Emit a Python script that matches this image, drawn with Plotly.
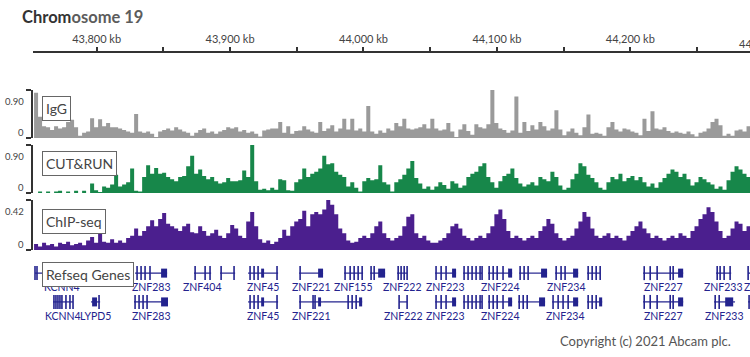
import plotly.graph_objects as go

# ---------------- data ----------------
TITLE_DARK = "Chrom"
TITLE_LIGHT = "osome 19"
COPYRIGHT = "Copyright (c) 2021 Abcam plc."

X_RANGE_KB = [43752.3, 44289.7]
TICK_KB = [43800, 43850, 43900, 43950, 44000, 44050, 44100, 44150, 44200, 44250]
TICK_TEXT = ["43,800 kb", "", "43,900 kb", "", "44,000 kb", "", "44,100 kb", "", "44,200 kb", ""]
EDGE_TICK_KB = 44300
EDGE_TICK_TEXT = "44,300 kb"

BIN_START_KB = 43753.1
BIN_KB = 3.0

IGG = [0.85, 0.4, 0.22, 0.2, 0.15, 0.22, 0.18, 0.2, 0.3, 0.34,
       0.2, 0.04, 0.1, 0.12, 0.37, 0.2, 0.35, 0.22, 0.28, 0.2,
       0.2, 0.18, 0.15, 0.12, 0.1, 0.45, 0.12, 0.1, 0.12, 0.08,
       0.02, 0.12, 0.15, 0.18, 0.14, 0.2, 0.16, 0.12, 0.1, 0.04,
       0.1, 0.15, 0.18, 0.1, 0.12, 0.08, 0.12, 0.15, 0.2, 0.18,
       0.2, 0.12, 0.15, 0.1, 0.12, 0.08, 0.03, 0.14, 0.16, 0.18,
       0.18, 0.3, 0.1, 0.22, 0.08, 0.13, 0.14, 0.22, 0.16, 0.12,
       0.1, 0.3, 0.13, 0.18, 0.24, 0.12, 0.18, 0.36, 0.16, 0.36,
       0.14, 0.18, 0.12, 0.6, 0.12, 0.08, 0.14, 0.1, 0.18, 0.14,
       0.28, 0.22, 0.36, 0.18, 0.16, 0.18, 0.2, 0.26, 0.18, 0.36,
       0.18, 0.14, 0.16, 0.28, 0.12, 0.02, 0.16, 0.26, 0.13, 0.06,
       0.26, 0.2, 0.18, 0.26, 0.92, 0.28, 0.18, 0.15, 0.1, 0.14,
       0.78, 0.1, 0.3, 0.13, 0.24, 0.16, 0.3, 0.22, 0.14, 0.18,
       0.52, 0.16, 0.05, 0.12, 0.18, 0.1, 0.05, 0.2, 0.44, 0.08,
       0.1, 0.08, 0.04, 0.2, 0.3, 0.16, 0.12, 0.18, 0.16, 0.12,
       0.1, 0.05, 0.36, 0.13, 0.5, 0.18, 0.16, 0.2, 0.13, 0.1,
       0.12, 0.1, 0.08, 0.12, 0.07, 0.03, 0.1, 0.12, 0.18, 0.3,
       0.36, 0.24, 0.04, 0.08, 0.04, 0.14, 0.16, 0.12, 0.22]

CUTRUN = [0.0, 0.03, 0.0, 0.03, 0.0, 0.03, 0.04, 0.0, 0.03, 0.0,
          0.04, 0.0, 0.04, 0.0, 0.18, 0.05, 0.02, 0.12, 0.1, 0.16,
          0.34, 0.12, 0.16, 0.2, 0.46, 0.04, 0.03, 0.3, 0.52, 0.36,
          0.47, 0.36, 0.38, 0.3, 0.26, 0.22, 0.3, 0.32, 0.5, 0.7,
          0.36, 0.44, 0.32, 0.26, 0.3, 0.22, 0.18, 0.2, 0.28, 0.22,
          0.22, 0.24, 0.42, 0.3, 0.9, 0.22, 0.06, 0.08, 0.05, 0.1,
          0.06, 0.26, 0.24, 0.05, 0.04, 0.2, 0.26, 0.46, 0.3, 0.36,
          0.4, 0.46, 0.7, 0.54, 0.56, 0.4, 0.34, 0.3, 0.12, 0.2,
          0.1, 0.03, 0.22, 0.28, 0.24, 0.26, 0.52, 0.2, 0.16, 0.03,
          0.2, 0.26, 0.34, 0.46, 0.6, 0.28, 0.18, 0.08, 0.12, 0.06,
          0.12, 0.2, 0.15, 0.08, 0.22, 0.18, 0.1, 0.14, 0.3, 0.36,
          0.4, 0.5, 0.56, 0.3, 0.2, 0.1, 0.22, 0.32, 0.36, 0.46,
          0.28, 0.18, 0.12, 0.16, 0.2, 0.14, 0.3, 0.26, 0.22, 0.4,
          0.3, 0.14, 0.06, 0.1, 0.26, 0.36, 0.56, 0.5, 0.34, 0.28,
          0.2, 0.1, 0.06, 0.2, 0.3, 0.26, 0.36, 0.22, 0.28, 0.32,
          0.24, 0.3, 0.2, 0.12, 0.18, 0.1, 0.2, 0.28, 0.36, 0.44,
          0.4, 0.3, 0.36, 0.26, 0.14, 0.2, 0.3, 0.26, 0.2, 0.16,
          0.08, 0.12, 0.06, 0.24, 0.4, 0.5, 0.44, 0.36, 0.3]

CHIP = [0.05, 0.03, 0.06, 0.04, 0.05, 0.03, 0.06, 0.05, 0.07, 0.04,
        0.05, 0.06, 0.04, 0.08, 0.11, 0.06, 0.15, 0.07, 0.06, 0.09,
        0.06, 0.08, 0.06, 0.1, 0.12, 0.18, 0.12, 0.16, 0.2, 0.25,
        0.2, 0.26, 0.31, 0.22, 0.2, 0.18, 0.16, 0.2, 0.22, 0.15,
        0.14, 0.2, 0.16, 0.12, 0.14, 0.17, 0.12, 0.1, 0.14, 0.21,
        0.18, 0.12, 0.1, 0.24, 0.32, 0.2, 0.09, 0.06, 0.08, 0.05,
        0.07, 0.1, 0.17, 0.12, 0.2, 0.24, 0.26, 0.33, 0.2, 0.3,
        0.32, 0.3, 0.34, 0.42, 0.38, 0.3, 0.18, 0.14, 0.08, 0.06,
        0.07, 0.1, 0.12, 0.1, 0.14, 0.2, 0.24, 0.14, 0.1, 0.08,
        0.1, 0.12, 0.2, 0.28, 0.3, 0.14, 0.1, 0.12, 0.08, 0.06,
        0.06, 0.08, 0.1, 0.14, 0.2, 0.22, 0.18, 0.12, 0.1, 0.08,
        0.1, 0.12, 0.1, 0.14, 0.2, 0.3, 0.34, 0.26, 0.16, 0.1,
        0.12, 0.1, 0.08, 0.1, 0.12, 0.1, 0.16, 0.2, 0.26, 0.22,
        0.14, 0.1, 0.08, 0.1, 0.12, 0.18, 0.24, 0.32, 0.28, 0.18,
        0.12, 0.1, 0.12, 0.14, 0.1, 0.12, 0.1, 0.08, 0.12, 0.16,
        0.2, 0.24, 0.18, 0.14, 0.1, 0.12, 0.1, 0.08, 0.1, 0.12,
        0.1, 0.14, 0.12, 0.1, 0.16, 0.2, 0.26, 0.3, 0.36, 0.32,
        0.24, 0.16, 0.1, 0.12, 0.18, 0.24, 0.22, 0.16, 0.2]

TRACK_NAMES = ["IgG", "CUT&RUN", "ChIP-seq"]
TRACK_MAX = [0.90, 0.90, 0.42]
TRACK_MAX_LABEL = ["0.90", "0.90", "0.42"]
TRACK_ZERO_LABEL = "0"
GENE_TRACK_NAME = "Refseq Genes"

# Refseq transcripts (kb)
GENE_NAME = ["KCNN4", "ZNF283", "ZNF404", "", "ZNF45", "ZNF221", "ZNF155", "", "ZNF222",
             "ZNF223", "", "ZNF224", "", "ZNF234", "", "ZNF227", "ZNF233", "ZNF235",
             "KCNN4", "LYPD5", "ZNF283", "ZNF45", "ZNF221", "", "ZNF222", "ZNF223", "",
             "ZNF224", "", "ZNF234", "", "ZNF227", "ZNF233", ""]
GENE_ROW = [1] * 18 + [2] * 16
GENE_START = [43753.8, 43828.8, 43873.0, 43892.5, 43913.5, 43951.7, 43985.5, 44005.0, 44025.2,
              44053.7, 44074.7, 44093.4, 44116.7, 44143.6, 44167.6, 44209.6, 44264.3, 44288.3,
              43767.3, 43795.8, 43828.0, 43913.5, 43951.7, 43969.7, 44026.7, 44053.7, 44074.7,
              44093.4, 44115.9, 44141.4, 44167.6, 44209.6, 44262.8, 44288.3]
GENE_END = [43795.0, 43852.8, 43885.8, 43903.8, 43936.0, 43969.7, 43999.7, 44016.2, 44032.7,
            44069.4, 44088.9, 44111.4, 44137.6, 44160.9, 44177.4, 44239.6, 44275.6, 44310.8,
            43782.3, 43802.6, 43853.5, 43936.0, 43969.7, 43999.0, 44032.7, 44069.4, 44088.9,
            44111.4, 44136.1, 44160.9, 44178.9, 44239.6, 44278.5, 44297.3]
GENE_EXONS = [
    [43753.8, 43755.3],
    [43830.3, 43833.3, 43836.3, 43840.0],
    [43873.8, 43881.3, 43885.0],
    [43893.3, 43903.0],
    [43915.0, 43918.0, 43921.0, 43935.2],
    [43952.5],
    [43986.2, 43990.0, 43993.0, 43996.0, 43999.0],
    [44005.7, 44008.0],
    [44026.0, 44028.2, 44030.5, 44032.7],
    [44054.4, 44058.2, 44061.9],
    [44075.4, 44078.4, 44081.4, 44084.4, 44087.4, 44088.9],
    [44094.2, 44097.2, 44100.2, 44104.6],
    [44117.4, 44120.4, 44123.4],
    [44144.4, 44148.1, 44151.1],
    [44168.4, 44171.4, 44174.4, 44177.4],
    [44210.4, 44214.9, 44220.1, 44229.9, 44232.1],
    [44265.1, 44267.3, 44270.3, 44274.8],
    [44288.3],
    [43768.0, 43769.5, 43771.0, 43772.5, 43774.0, 43777.0, 43780.0, 43782.3],
    [43801.8],
    [43828.8, 43831.8, 43834.8, 43837.8],
    [43915.0, 43918.0, 43921.0, 43935.2],
    [43952.5, 43962.2, 43963.7],
    [43988.5, 43991.5, 43994.5],
    [44026.7, 44032.7],
    [44054.4, 44058.2, 44061.9],
    [44075.4, 44078.4, 44081.4, 44084.4, 44087.4, 44088.9],
    [44094.2, 44097.2, 44100.2, 44104.6],
    [44116.7, 44119.7, 44122.7],
    [44142.1, 44145.9, 44149.6, 44153.4],
    [44168.4, 44171.4, 44174.4],
    [44210.4, 44214.9, 44220.1, 44229.9, 44232.1],
    [44263.6, 44266.6],
    [44289.0],
]
GENE_BLOCKS = [
    [], [(43848.3, 43852.8)], [], [], [(43923.3, 43925.5)], [(43966.0, 43969.7)], [],
    [(44011.0, 44016.2)], [], [(44066.4, 44069.4)], [], [(44108.4, 44111.4)],
    [(44133.1, 44137.6)], [(44157.1, 44160.9)], [], [(44235.8, 44239.6)], [], [],
    [], [(43796.6, 43800.3)], [(43848.3, 43853.5)], [(43923.3, 43925.5)], [(43966.0, 43968.2)],
    [(43996.7, 43999.0)], [], [(44066.4, 44069.4)], [], [(44108.4, 44111.4)],
    [(44131.6, 44136.1)], [(44157.1, 44160.9)], [(44176.6, 44178.9)], [(44235.8, 44239.6)],
    [(44271.1, 44277.1)], [],
]

# ---------------- style / layout ----------------
W, H = 750, 357
FONT = "Lato, 'Open Sans', sans-serif"
GREY = "#9a9a9a"
GREEN = "#17874a"
PURPLE = "#4b1f8e"
NAVY = "#23238e"
AXIS_COL = "#333333"
TRACK_COLORS = [GREY, GREEN, PURPLE]
TRACK_PX = [(90, 138), (145, 193), (200, 250)]   # top, bottom pixel rows
GENE_PX = (258, 330)
ROW_Y = {1: 0.79, 2: 0.39}
LABEL_BOX_CENTER_PX = [108.5, 163, 221]
X_DOMAIN = [33 / W, 1.0]


def py(px):
    return (H - px) / H


fig = go.Figure()
series = [IGG, CUTRUN, CHIP]
n = len(IGG)
xs = [BIN_START_KB + i * BIN_KB for i in range(n + 1)]
for k, vals in enumerate(series):
    yref = "y" if k == 0 else f"y{k + 1}"
    fig.add_trace(go.Scatter(
        x=xs, y=list(vals) + [vals[-1]], mode="lines",
        line=dict(width=0, shape="hv", color=TRACK_COLORS[k]),
        fill="tozeroy", fillcolor=TRACK_COLORS[k],
        xaxis="x", yaxis=yref, hoverinfo="skip", showlegend=False))

# genes
for row in (1, 2):
    lx, ly, bx, by, ex, ey = [], [], [], [], [], []
    for i, r in enumerate(GENE_ROW):
        if r != row:
            continue
        lx += [GENE_START[i], GENE_END[i], None]
        ly += [ROW_Y[row], ROW_Y[row], None]
        for s, e in GENE_BLOCKS[i]:
            bx += [s, e, None]
            by += [ROW_Y[row], ROW_Y[row], None]
        for e in GENE_EXONS[i]:
            ex.append(e)
            ey.append(ROW_Y[row])
    fig.add_trace(go.Scatter(x=lx, y=ly, mode="lines", line=dict(color=NAVY, width=1.2),
                             xaxis="x", yaxis="y4", hoverinfo="skip", showlegend=False))
    fig.add_trace(go.Scatter(x=bx, y=by, mode="lines", line=dict(color=NAVY, width=9),
                             xaxis="x", yaxis="y4", hoverinfo="skip", showlegend=False))
    fig.add_trace(go.Scatter(x=ex, y=ey, mode="markers",
                             marker=dict(symbol="line-ns", size=10, color=NAVY,
                                         line=dict(width=1.6, color=NAVY)),
                             xaxis="x", yaxis="y4", hoverinfo="skip", showlegend=False))

annotations = []
x0, x1 = X_RANGE_KB


def kb_to_paper(kb):
    return X_DOMAIN[0] + (kb - x0) / (x1 - x0) * (X_DOMAIN[1] - X_DOMAIN[0])


for i, name in enumerate(GENE_NAME):
    if not name:
        continue
    c = (GENE_START[i] + GENE_END[i]) / 2
    annotations.append(dict(
        x=kb_to_paper(c), xref="paper", xanchor="center", y=ROW_Y[GENE_ROW[i]], yref="y4",
        yanchor="top", yshift=-6, text=name, showarrow=False,
        font=dict(family=FONT, size=10.5, color=NAVY)))

# y labels and track name boxes
for k in range(3):
    yref = "y" if k == 0 else f"y{k + 1}"
    annotations.append(dict(x=26 / W, xref="paper", xanchor="right", y=TRACK_MAX[k], yref=yref,
                            yshift=-11, text=TRACK_MAX_LABEL[k], showarrow=False,
                            font=dict(family=FONT, size=9.5, color="#444")))
    annotations.append(dict(x=26 / W, xref="paper", xanchor="right", y=0, yref=yref,
                            yshift=6, text=TRACK_ZERO_LABEL, showarrow=False,
                            font=dict(family=FONT, size=9.5, color="#444")))
    annotations.append(dict(x=42 / W, xref="paper", xanchor="left", y=py(LABEL_BOX_CENTER_PX[k]),
                            yref="paper", yanchor="middle", text=TRACK_NAMES[k], showarrow=False,
                            bgcolor="white", bordercolor="#666", borderwidth=1, borderpad=3,
                            font=dict(family=FONT, size=14, color="#444")))
annotations.append(dict(x=42 / W, xref="paper", xanchor="left", y=py(274.5), yref="paper",
                        yanchor="middle", text=GENE_TRACK_NAME, showarrow=False,
                        bgcolor="white", bordercolor="#666", borderwidth=1, borderpad=3,
                        font=dict(family=FONT, size=14, color="#444")))

annotations.append(dict(x=20 / W, xref="paper", xanchor="left", y=py(17), yref="paper",
                        yanchor="middle",
                        text=f"<b><span style='color:#333'>{TITLE_DARK}</span>"
                             f"<span style='color:#5c5c5c'>{TITLE_LIGHT}</span></b>",
                        showarrow=False, font=dict(family=FONT, size=16.5)))
annotations.append(dict(x=kb_to_paper(EDGE_TICK_KB), xref="paper", xanchor="center", y=py(43),
                        yref="paper", yanchor="middle", text=EDGE_TICK_TEXT, showarrow=False,
                        font=dict(family=FONT, size=11, color="#444")))
annotations.append(dict(x=733 / W, xref="paper", xanchor="right", y=py(341), yref="paper",
                        yanchor="middle", text=COPYRIGHT, showarrow=False,
                        font=dict(family=FONT, size=13, color="#555")))

layout = dict(
    width=W, height=H, margin=dict(l=0, r=0, t=0, b=0),
    paper_bgcolor="white", plot_bgcolor="white", showlegend=False,
    xaxis=dict(domain=X_DOMAIN, range=X_RANGE_KB, anchor="free", position=py(52), side="top",
               showline=True, linecolor=AXIS_COL, linewidth=2, ticks="outside", ticklen=4,
               tickwidth=1.5, tickcolor=AXIS_COL, tickvals=TICK_KB, ticktext=TICK_TEXT,
               tickfont=dict(family=FONT, size=11, color="#444"), showgrid=False,
               zeroline=False, fixedrange=True),
    yaxis4=dict(domain=[py(GENE_PX[1]), py(GENE_PX[0])], range=[0, 1], visible=False,
                anchor="free", position=X_DOMAIN[0]),
    annotations=annotations,
)
for k in range(3):
    key = "yaxis" if k == 0 else f"yaxis{k + 1}"
    top, bot = TRACK_PX[k]
    layout[key] = dict(domain=[py(bot), py(top)], range=[0, TRACK_MAX[k]], anchor="free",
                       position=32 / W, showline=True, linecolor=AXIS_COL, linewidth=1.5,
                       ticks="outside", ticklen=5, tickwidth=1.5, tickcolor=AXIS_COL,
                       tickvals=[0, TRACK_MAX[k]], showticklabels=False, showgrid=False,
                       zeroline=False, fixedrange=True)

fig.update_layout(**layout)
fig.write_html("out.html", config={"displayModeBar": False},
               post_script="document.body.style.margin='0px';")
